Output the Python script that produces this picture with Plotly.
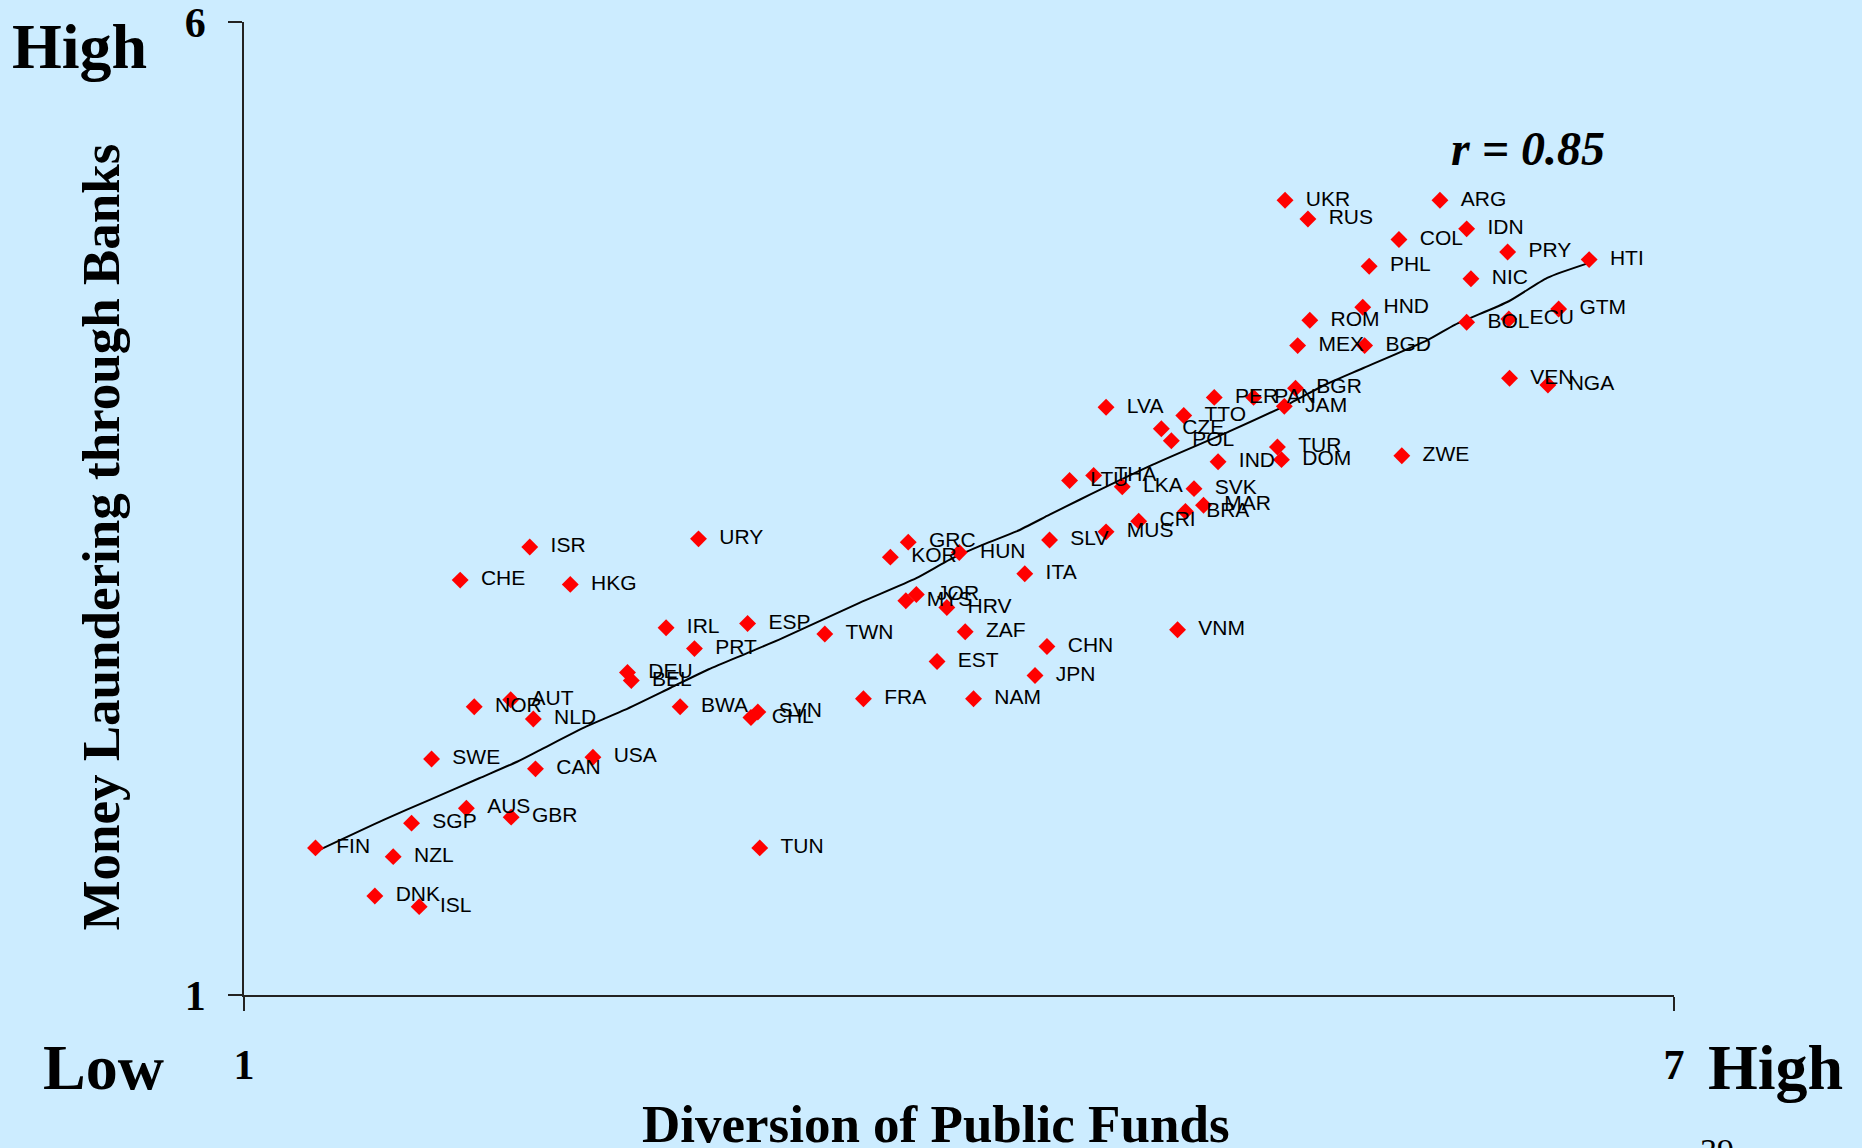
import plotly.graph_objects as go

countries = ["FIN","NZL","DNK","ISL","SGP","AUS","GBR","SWE","CAN","USA",
             "NOR","AUT","NLD","CHE","ISR","HKG","URY","DEU","BEL","IRL",
             "PRT","ESP","BWA","SVN","CHL","TUN","TWN","FRA","KOR","GRC",
             "HUN","MYS","JOR","HRV","ZAF","EST","NAM","ITA","CHN","JPN",
             "SLV","MUS","CRI","BRA","MAR","SVK","LKA","THA","LTU","VNM",
             "IND","POL","CZE","TTO","LVA","PER","PAN","BGR","JAM","TUR",
             "DOM","ZWE","MEX","BGD","ROM","HND","PHL","COL","UKR","RUS",
             "ARG","IDN","PRY","NIC","HTI","GTM","ECU","BOL","VEN","NGA"]

diversion = [1.300,1.626,1.549,1.735,1.703,1.933,2.121,1.787,2.223,2.464,
             1.966,2.119,2.214,1.907,2.199,2.369,2.907,2.609,2.625,2.771,
             2.890,3.113,2.830,3.156,3.127,3.164,3.437,3.599,3.712,3.787,
             4.001,3.777,3.821,3.949,4.026,3.908,4.061,4.276,4.369,4.319,
             4.380,4.617,4.754,4.950,5.026,4.986,4.685,4.565,4.464,4.917,
             5.087,4.891,4.849,4.943,4.617,5.071,5.236,5.412,5.365,5.336,
             5.353,5.858,5.421,5.702,5.472,5.694,5.721,5.846,5.368,5.464,
             6.018,6.130,6.302,6.148,6.644,6.516,6.307,6.130,6.310,6.471]

laundering = [1.756,1.711,1.509,1.454,1.883,1.960,1.914,2.213,2.162,2.222,
              2.481,2.517,2.418,3.132,3.302,3.110,3.344,2.657,2.616,2.887,
              2.780,2.909,2.481,2.454,2.426,1.756,2.855,2.522,3.250,3.327,
              3.274,3.026,3.058,2.991,2.867,2.714,2.522,3.165,2.791,2.642,
              3.338,3.380,3.435,3.485,3.517,3.602,3.612,3.670,3.644,2.877,
              3.740,3.848,3.910,3.978,4.020,4.071,4.071,4.118,4.025,3.816,
              3.751,3.771,4.337,4.337,4.467,4.534,4.745,4.882,5.084,4.988,
              5.084,4.937,4.818,4.681,4.779,4.525,4.474,4.457,4.169,4.135]

fit_x = [1.301,1.586,1.779,1.987,2.148,2.244,2.437,2.597,2.790,2.950,
         3.111,3.259,3.580,3.821,3.961,4.101,4.241,4.380,4.506,4.813,
         5.134,5.391,5.536,5.697,5.970,6.082,6.307,6.468,6.644]
fit_y = [1.737,1.900,2.003,2.114,2.200,2.260,2.380,2.465,2.579,2.674,
         2.757,2.834,3.014,3.142,3.237,3.314,3.382,3.468,3.545,3.725,
         3.896,4.042,4.136,4.222,4.368,4.445,4.565,4.685,4.762]

BG = "#CCECFF"
SERIF = "Liberation Serif"

fig = go.Figure()
fig.add_trace(go.Scatter(
    x=fit_x, y=fit_y, mode="lines",
    line=dict(color="black", width=2, shape="spline", smoothing=0.6),
    hoverinfo="skip", showlegend=False))
fig.add_trace(go.Scatter(
    x=diversion, y=laundering, mode="markers+text",
    text=["\u00a0\u00a0" + c for c in countries],
    textposition="middle right",
    textfont=dict(family="Liberation Sans", size=21, color="black"),
    marker=dict(symbol="diamond", size=13, color="#FF0000", line=dict(width=0)),
    showlegend=False, cliponaxis=False))

# plot area pixel geometry
L, R, T, B = 244.3, 1674.4, 22.3, 995.0
W, H = R - L, B - T

def px(xp):
    return (xp - L) / W

def py(yp):
    return (B - yp) / H

annots = [
    dict(text="<b>High</b>", x=px(79.5), y=py(47), size=64),
    dict(text="<b>Low</b>", x=px(104), y=py(1067), size=64),
    dict(text="<b>High</b>", x=px(1775.5), y=py(1067), size=64),
    dict(text="<b>Diversion of Public Funds</b>", x=px(936), y=py(1124), size=53),
    dict(text="<b><i>r = 0.85</i></b>", x=px(1528), y=py(149), size=48),
    dict(text="39", x=px(1717), y=py(1150), size=34),
]
for a in annots:
    fig.add_annotation(text=a["text"], x=a["x"], y=a["y"], xref="paper", yref="paper",
                       xanchor="center", yanchor="middle", showarrow=False,
                       font=dict(family=SERIF, size=a["size"], color="black"))

fig.add_annotation(text="<b>Money Laundering through Banks</b>", x=px(101), y=py(537),
                   xref="paper", yref="paper", xanchor="center", yanchor="middle",
                   textangle=-90, showarrow=False,
                   font=dict(family=SERIF, size=53, color="black"))

fig.update_layout(
    width=1862, height=1148,
    margin=dict(l=L, r=1862 - R, t=T, b=1148 - B, pad=0, autoexpand=False),
    paper_bgcolor=BG, plot_bgcolor=BG,
    xaxis=dict(range=[1, 7], tickvals=[1, 7], ticktext=["1", "7"],
               showgrid=False, zeroline=False, showline=True, automargin=False,
               linecolor="#222222", linewidth=1.5,
               ticks="outside", ticklen=14, tickcolor="#222222", tickwidth=1.5,
               ticklabelstandoff=18, ticklabeloverflow="allow",
               tickfont=dict(family=SERIF, size=42, color="black", weight="bold")),
    yaxis=dict(range=[1, 6], tickvals=[1, 6], ticktext=["1", "6"],
               showgrid=False, zeroline=False, showline=True, automargin=False,
               linecolor="#222222", linewidth=1.5,
               ticks="outside", ticklen=14, tickcolor="#222222", tickwidth=1.5,
               ticklabelstandoff=14, ticklabeloverflow="allow",
               tickfont=dict(family=SERIF, size=42, color="black", weight="bold")),
)

fig.write_html("out.html", config={"displayModeBar": False},
               post_script="document.body.style.margin='0';")
